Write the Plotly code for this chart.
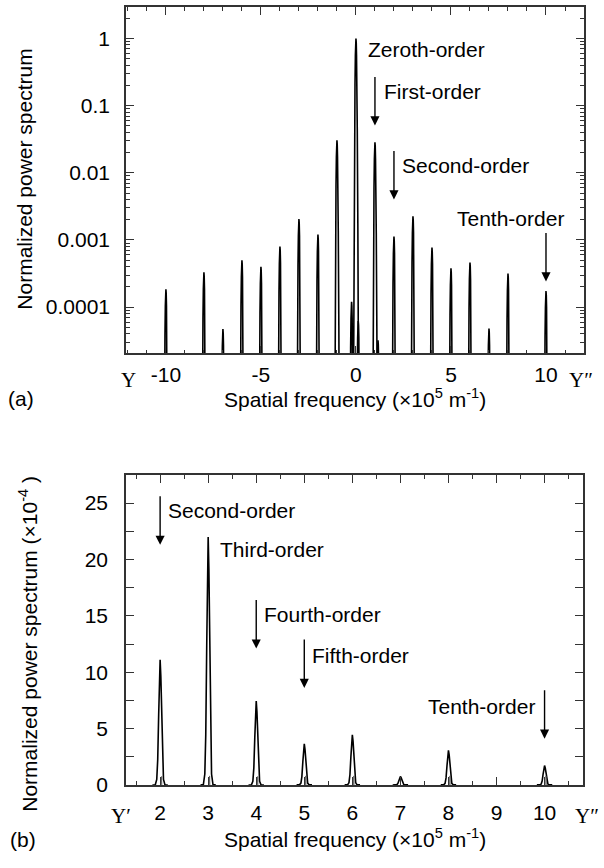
import plotly.graph_objects as go

# ---------------- data ----------------
# Panel (a): spatial-frequency positions (x10^5 m^-1) and normalized power (log axis)
orders_a = [-10, -8, -7, -6, -5, -4, -3, -2, -1, -0.23, 0, 0.12,
            1, 1.16, 2, 3, 4, 5, 6, 7, 8, 10]
power_a = [1.85e-4, 3.3e-4, 4.7e-5, 5.0e-4, 4.0e-4, 8.0e-4, 2.05e-3, 1.2e-3,
           3.05e-2, 1.2e-4, 1.0, 6.2e-5, 2.85e-2, 3.2e-5, 1.12e-3, 2.25e-3,
           7.7e-4, 3.8e-4, 4.6e-4, 4.8e-5, 3.15e-4, 1.74e-4]

# Panel (b): positive orders, power in units of 1e-4 (linear axis)
orders_b = [2, 3, 4, 5, 6, 7, 8, 10]
power_b = [11.1, 22.0, 7.45, 3.65, 4.45, 0.75, 3.07, 1.72]
# faint secondary spikes inside the peaks of panel (b)
orders_b2 = [2.03, 3.03, 4.03, 5.03, 6.03, 8.03, 10.03]
power_b2 = [0.75, 0.8, 0.75, 0.8, 0.8, 0.8, 0.8]

ticks_a = [-10, -5, 0, 5, 10]
ticklabels_a = ["-10", "-5", "0", "5", "10"]
yticks_a = [1e-4, 1e-3, 1e-2, 1e-1, 1]
yticklabels_a = ["0.0001", "0.001", "0.01", "0.1", "1"]
ticks_b = [2, 3, 4, 5, 6, 7, 8, 9, 10]
ticklabels_b = ["2", "3", "4", "5", "6", "7", "8", "9", "10"]
yticks_b = [0, 5, 10, 15, 20, 25]
yticklabels_b = ["0", "5", "10", "15", "20", "25"]

# ---------------- line-shape template (style) for one spectral peak ----------------
PROFILE_DX = [-0.16, -0.13, -0.10, -0.07, -0.05, -0.03, -0.015, 0,
              0.015, 0.03, 0.05, 0.07, 0.10, 0.13, 0.16]
PROFILE_REL = [8e-8, 2.1e-5, 1.7e-3, 0.044, 0.203, 0.563, 0.867, 1,
               0.867, 0.563, 0.203, 0.044, 1.7e-3, 2.1e-5, 8e-8]
SPIKE_DX = [-0.006, 0, 0.006]
SPIKE_REL = [0.001, 1, 0.001]


def peak_path(centres, heights, dxs, rels):
    xs, ys = [], []
    for c, h in zip(centres, heights):
        for dx, r in zip(dxs, rels):
            xs.append(c + dx)
            ys.append(h * r)
        xs.append(None)
        ys.append(None)
    return xs, ys


FONT = "Arial, Liberation Sans, Helvetica, sans-serif"
SERIF = "Times New Roman, Liberation Serif, DejaVu Serif, serif"
FS = 21
AX = "#333333"

fig = go.Figure()

xa, ya = peak_path(orders_a, power_a, PROFILE_DX, PROFILE_REL)
fig.add_trace(go.Scatter(x=xa, y=ya, mode="lines", line=dict(color="black", width=1.6),
                         xaxis="x", yaxis="y", showlegend=False, hoverinfo="skip"))

xb, yb = peak_path(orders_b, power_b, PROFILE_DX, PROFILE_REL)
fig.add_trace(go.Scatter(x=xb, y=yb, mode="lines", line=dict(color="black", width=1.6),
                         xaxis="x2", yaxis="y2", showlegend=False, hoverinfo="skip"))
xb2, yb2 = peak_path(orders_b2, power_b2, SPIKE_DX, SPIKE_REL)
fig.add_trace(go.Scatter(x=xb2, y=yb2, mode="lines", line=dict(color="#555555", width=0.8),
                         xaxis="x2", yaxis="y2", showlegend=False, hoverinfo="skip"))

W, H = 604, 868


def px_x(p):
    return p / W


def px_y(p):
    return 1 - p / H


log_minor = [k * 10.0 ** e for e in range(-5, 1) for k in range(2, 10)]

common_axis = dict(showline=True, linecolor=AX, linewidth=1.5, mirror="ticks",
                   ticks="inside", tickcolor=AX, tickwidth=1.3, showgrid=False,
                   zeroline=False, tickfont=dict(family=FONT, size=FS, color="black"))

fig.update_layout(
    width=W, height=H,
    margin=dict(l=0, r=0, t=0, b=0),
    paper_bgcolor="white", plot_bgcolor="white",
    font=dict(family=FONT, size=FS, color="black"),
    xaxis=dict(domain=[px_x(126), px_x(584)], anchor="y", range=[-12.1, 12.0],
               tickmode="array", tickvals=ticks_a, ticktext=ticklabels_a, ticklen=8,
               ticklabelstandoff=2,
               minor=dict(dtick=1, tick0=0, ticks="inside", ticklen=4, tickcolor=AX,
                          showgrid=False),
               **common_axis),
    yaxis=dict(domain=[px_y(358), px_y(7)], anchor="x", type="log", range=[-4.69, 0.47],
               tickmode="array", tickvals=yticks_a, ticktext=yticklabels_a, ticklen=8,
               ticklabelstandoff=10,
               minor=dict(tickmode="array", tickvals=log_minor, ticks="inside", ticklen=4,
                          tickcolor=AX, showgrid=False),
               **common_axis),
    xaxis2=dict(domain=[px_x(126), px_x(583)], anchor="y2", range=[1.29, 10.8],
                tickmode="array", tickvals=ticks_b, ticktext=ticklabels_b, ticklen=8,
                ticklabelstandoff=8,
                minor=dict(dtick=0.5, tick0=0, ticks="inside", ticklen=4, tickcolor=AX,
                           showgrid=False),
                **common_axis),
    yaxis2=dict(domain=[px_y(795), px_y(481)], anchor="x2", range=[0, 27.5],
                tickmode="array", tickvals=yticks_b, ticktext=yticklabels_b, ticklen=8,
                ticklabelstandoff=12,
                minor=dict(dtick=2.5, tick0=0, ticks="inside", ticklen=8, tickcolor=AX,
                           showgrid=False),
                **common_axis),
)

ann = []
tf = dict(family=FONT, size=FS, color="black")

# axis titles
ann.append(dict(text="Spatial frequency (×10<sup>5</sup> m<sup>-1</sup>)", xref="paper", yref="paper",
                x=px_x(355), y=px_y(403), xanchor="center", yanchor="middle", showarrow=False, font=tf))
ann.append(dict(text="Spatial frequency (×10<sup>5</sup> m<sup>-1</sup>)", xref="paper", yref="paper",
                x=px_x(355), y=px_y(849), xanchor="center", yanchor="middle", showarrow=False, font=tf))
ann.append(dict(text="Normalized power spectrum", xref="paper", yref="paper", textangle=-90,
                x=px_x(25), y=px_y(182), xanchor="center", yanchor="middle", showarrow=False, font=tf))
ann.append(dict(text="Normalized power spectrum (×10<sup>-4</sup> )", xref="paper", yref="paper",
                textangle=-90, x=px_x(28), y=px_y(652), xanchor="center", yanchor="middle",
                showarrow=False, font=tf))
# panel letters
ann.append(dict(text="(a)", xref="paper", yref="paper", x=px_x(6), y=px_y(404),
                xanchor="left", yanchor="middle", showarrow=False, font=tf))
ann.append(dict(text="(b)", xref="paper", yref="paper", x=px_x(8), y=px_y(850),
                xanchor="left", yanchor="middle", showarrow=False, font=tf))
# axis end markers
sf = dict(family=SERIF, size=FS, color="black")
ann.append(dict(text="Y", xref="x domain", yref="y domain", x=0, y=0, yshift=-27, xshift=2,
                xanchor="center", yanchor="middle", showarrow=False, font=sf))
ann.append(dict(text="Y″", xref="x domain", yref="y domain", x=1, y=0, yshift=-27, xshift=11,
                xanchor="right", yanchor="middle", showarrow=False, font=sf))
ann.append(dict(text="Y′", xref="x2 domain", yref="y2 domain", x=0, y=0, yshift=-31, xshift=-5,
                xanchor="center", yanchor="middle", showarrow=False, font=sf))
ann.append(dict(text="Y″", xref="x2 domain", yref="y2 domain", x=1, y=0, yshift=-31, xshift=18,
                xanchor="right", yanchor="middle", showarrow=False, font=sf))

arrow = dict(showarrow=True, arrowhead=2, arrowsize=1.3, arrowwidth=1.4, arrowcolor="black",
             ax=0, ay=-50, standoff=0, text="")

# panel (a) annotations
for x, y in [(1, -1.294), (2, -2.397), (10, -3.618)]:
    ann.append(dict(xref="x", yref="y", x=x, y=y, **arrow))
for txt, x, y, anc in [("Zeroth-order", 0.53, -0.162, "left"),
                       ("First-order", 1.37, -0.794, "left"),
                       ("Second-order", 2.32, -1.897, "left"),
                       ("Tenth-order", 11.05, -2.676, "right")]:
    ann.append(dict(text=txt, xref="x", yref="y", x=x, y=y, xanchor=anc, yanchor="middle",
                    showarrow=False, font=tf))

# panel (b) annotations
for x, y in [(2, 21.3), (4, 12.1), (5, 8.6), (10, 4.1)]:
    ann.append(dict(xref="x2", yref="y2", x=x, y=y, **arrow))
for txt, x, y, anc in [("Second-order", 2.125, 24.3, "left"),
                       ("Third-order", 3.21, 20.9, "left"),
                       ("Fourth-order", 4.125, 15.1, "left"),
                       ("Fifth-order", 5.125, 11.5, "left"),
                       ("Tenth-order", 9.85, 7.0, "right")]:
    ann.append(dict(text=txt, xref="x2", yref="y2", x=x, y=y, xanchor=anc, yanchor="middle",
                    showarrow=False, font=tf))

fig.update_layout(annotations=ann)
fig.write_html("out.html", config={"displayModeBar": False},
               post_script="document.body.style.margin='0px';")
